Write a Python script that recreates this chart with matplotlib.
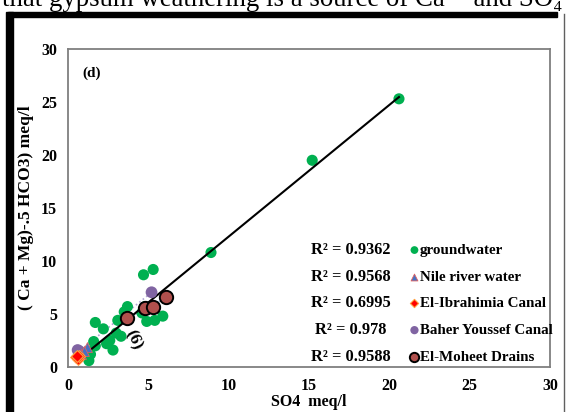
import matplotlib
matplotlib.use("Agg")
import matplotlib.pyplot as plt
import numpy as np

# ---------------- data ----------------
gw_x = [20.6, 15.2, 8.9, 5.3, 4.7, 3.7, 3.5, 4.6, 4.9, 5.4, 5.9, 4.8, 3.1, 3.0, 3.3,
        2.2, 1.7, 2.6, 2.4, 2.8, 1.6, 1.3, 1.3, 1.4, 1.7]
gw_y = [25.3, 19.5, 10.8, 9.2, 8.7, 5.7, 5.2, 5.1, 4.3, 4.4, 4.8, 5.7, 4.4, 3.2, 2.9,
        3.6, 4.2, 2.5, 2.2, 1.6, 2.4, 1.5, 0.6, 1.2, 2.0]

nile_x = [1.2, 1.0, 0.8]
nile_y = [1.9, 1.5, 1.2]

ibr_x = [0.5, 0.6, 0.7, 0.55]
ibr_y = [0.9, 0.8, 1.0, 1.05]

baher_x = [0.6, 0.8, 0.7, 5.2]
baher_y = [1.6, 1.35, 1.5, 7.05]

moh_x = [3.7, 4.8, 5.3, 6.1]
moh_y = [4.6, 5.6, 5.7, 6.6]

series_names = ["groundwater", "Nile river water", "El-Ibrahimia Canal",
                "Baher Youssef Canal", "El-Moheet Drains"]
r2_labels = ["R² = 0.9362", "R² = 0.9568", "R² = 0.6995", "R² = 0.978", "R² = 0.9588"]

x_ticks = [0, 5, 10, 15, 20, 25, 30]
y_ticks = [0, 5, 10, 15, 20, 25, 30]

# ---------------- figure ----------------
W, H = 566, 412
fig = plt.figure(figsize=(W / 100, H / 100), dpi=100)
serif = ["Liberation Serif", "DejaVu Serif"]

ax = fig.add_axes([68 / W, 1 - 367 / H, (550 - 68) / W, (367 - 49) / H])
ax.set_xlim(0, 30)
ax.set_ylim(0, 30)
ax.set_xticks(x_ticks)
ax.set_yticks(y_ticks)
ax.tick_params(axis="y", length=0, pad=8)
ax.tick_params(axis="x", length=0, pad=8)
for lab in ax.get_xticklabels() + ax.get_yticklabels():
    lab.set_fontfamily(serif)
    lab.set_fontweight("bold")
    lab.set_fontsize(11.5)
for s in ax.spines.values():
    s.set_color("#7f7f7f")
    s.set_linewidth(1.3)

# trend lines
def trend(xs, ys, **kw):
    xs = np.asarray(xs); ys = np.asarray(ys)
    m, b = np.polyfit(xs, ys, 1)
    xx = np.array([xs.min(), xs.max()])
    ax.plot(xx, m * xx + b, **kw)

trend(gw_x, gw_y, color="black", lw=1.5, zorder=4)
trend(nile_x, nile_y, color="#4472C4", lw=1, ls=":", zorder=2)
trend(ibr_x, ibr_y, color="#FF0000", lw=1, ls=":", zorder=2)
trend(baher_x, baher_y, color="#B0A4D4", lw=1.2, ls=":", zorder=2)
trend(moh_x, moh_y, color="#9DC3E6", lw=1.2, ls=":", zorder=2)

h1 = ax.scatter(gw_x, gw_y, s=64, color="#00B050", edgecolors="none", zorder=3,
                label=series_names[0])
h2 = ax.scatter(nile_x, nile_y, s=50, marker="^", color="#4472C4", edgecolors="#E06060",
                linewidths=0.6, zorder=5, label=series_names[1])
h3 = ax.scatter(ibr_x, ibr_y, s=36, marker="D", color="#FF0000", edgecolors="#FFA040",
                linewidths=0.8, zorder=6, label=series_names[2])
h4 = ax.scatter(baher_x, baher_y, s=72, color="#8064A2", edgecolors="none", zorder=4,
                label=series_names[3])
h5 = ax.scatter(moh_x, moh_y, s=92, color="#B0504D", edgecolors="black",
                linewidths=1.4, zorder=5, label=series_names[4])

leg = ax.legend(handles=[h1, h2, h3, h4, h5], loc="upper left",
                bbox_to_anchor=(0.683, 0.412), frameon=False,
                prop={"family": serif, "weight": "bold", "size": 10.8},
                handletextpad=-0.3, handlelength=1.3, labelspacing=0.88,
                borderpad=0, markerscale=0.7)

row_y = [0.368, 0.283, 0.200, 0.115, 0.030]
for lbl, yy in zip(r2_labels, row_y):
    ax.text(0.587, yy, lbl, transform=ax.transAxes, ha="center", va="center",
            fontfamily=serif, fontweight="bold", fontsize=11.8)

ax.text(0.03, 0.925, "(d)", transform=ax.transAxes, ha="left", va="center",
        fontfamily=serif, fontweight="bold", fontsize=11)
ax.text(0.135, 0.085, "(6)", transform=ax.transAxes, ha="center", va="center",
        fontfamily=serif, fontweight="bold", fontsize=12.5, rotation=-65)

ax.set_xlabel("SO4  meq/l", fontfamily=serif, fontweight="bold", fontsize=11.5,
              labelpad=0)
ax.set_ylabel("( Ca + Mg)-.5 HCO3) meq/l", fontfamily=serif, fontweight="bold",
              fontsize=12.5, labelpad=5)

# page decorations (cropped text and frame)
fig.text(2 / W, 1 - 6 / H, "that gypsum weathering is a source of Ca²⁺ and SO₄",
         ha="left", va="baseline", fontfamily=serif, fontsize=19.3)
fig.patches.append(plt.Rectangle((8 / W, 1 - 17 / H), (557 - 8) / W, 5 / H,
                                 transform=fig.transFigure, color="black"))
fig.patches.append(plt.Rectangle((6 / W, 0), 7 / W, 1 - 12 / H,
                                 transform=fig.transFigure, color="black"))
fig.lines.append(plt.Line2D([564 / W, 564 / W], [0, 1 - 14 / H],
                            transform=fig.transFigure, color="#606060", lw=1))

fig.savefig("out.png", dpi=100)
